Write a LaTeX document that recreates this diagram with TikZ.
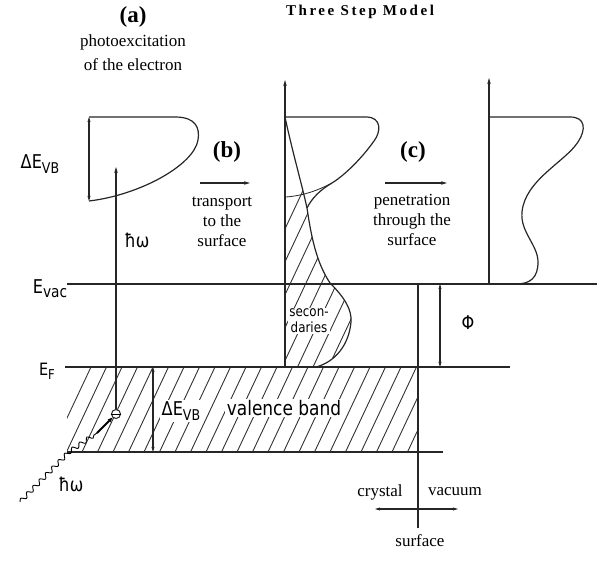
\documentclass[tikz,border=0pt]{standalone}
\usepackage{fontspec}
\usepackage{graphicx}
\setmainfont{Liberation Serif}
\newfontfamily\lab[FakeStretch=0.85]{DejaVu Sans}
\newfontfamily\spaced[LetterSpace=17]{Liberation Serif}
\usetikzlibrary{arrows.meta,decorations.pathmorphing}
\newcommand\lowsub[2][0.78]{\raisebox{-0.4ex}{\scalebox{#1}{#2}}}
\begin{document}
\begin{tikzpicture}[x=1pt,y=-1pt, line width=1pt,
  ln/.style={draw=black!85, line width=1.2pt},
  hatch/.style={draw=black!80, line width=0.9pt},
  tip/.style={-{Stealth[length=6pt,width=3.5pt]}},
  dtip/.style={{Stealth[length=5pt,width=3pt]}-{Stealth[length=5pt,width=3pt]}},
  serif/.style={font=\fontsize{17}{20}\selectfont, align=center, inner sep=0pt},
  big/.style={font=\bfseries\fontsize{23}{26}\selectfont, inner sep=0pt},
  labl/.style={font=\lab\fontsize{19}{22}\selectfont, inner sep=1pt},
  wbox/.style={fill=white, inner sep=1.5pt}]
\useasboundingbox (0,0) rectangle (597,575);

% ---------- key coordinates ----------
\coordinate (vacL) at (67,284);  \coordinate (vacR) at (597,284);
\coordinate (fL) at (65,367);    \coordinate (fR) at (510,367);
\coordinate (bL) at (67,452);    \coordinate (bR) at (443,452);
\coordinate (sT) at (418,284);   \coordinate (sB) at (418,528);

% ---------- hatching of the valence band ----------
\begin{scope}
  \clip (67,367) rectangle (418,452);
  \foreach \x in {51,66.5,...,430} \draw[hatch] (\x,452) -- ++(40,-85);
\end{scope}

% ---------- middle panel: hatched secondaries ----------
\begin{scope}
  \clip (285,117) .. controls (292,150) and (302,185) .. (307,208)
        .. controls (311,235) and (316,262) .. (330,283)
        .. controls (345,298) and (352,310) .. (351,322)
        .. controls (349,345) and (335,362) .. (316,367) -- (285,367) -- cycle;
  \foreach \x in {180,195.5,...,420} \draw[hatch] (\x,452) -- ++(160,-340);
\end{scope}
\draw[ln] (285,117) .. controls (292,150) and (302,185) .. (307,208)
        .. controls (311,235) and (316,262) .. (330,283)
        .. controls (345,298) and (352,310) .. (351,322)
        .. controls (349,345) and (335,362) .. (316,367);

% ---------- energy levels ----------
\draw[ln] (vacL) -- (vacR);
\draw[ln] (fL) -- (fR);
\draw[ln] (bL) -- (bR);
\draw[ln] (sT) -- (sB);
\coordinate (phT) at (440,284); \coordinate (phB) at (440,367);
\draw[ln,dtip] (phT) -- (phB);
\node[font=\lab\fontsize{19}{22}\selectfont] (phi) at (468,323) {Φ};

% ---------- level labels ----------
\node[labl] (evac) at (50,289) {E\lowsub[0.85]{vac}};
\node[labl, font=\lab\fontsize{17}{20}\selectfont] (ef) at (47,371) {E\lowsub[0.8]{F}};
\node[labl] (dEtop) at (40,164) {ΔE\lowsub{VB}};

% ---------- panel (a) ----------
\node[big] (a) at (133,17) {(a)};
\node[serif] (photo) at (133,42) {photoexcitation};
\node[serif] (ofel) at (133,65) {of the electron};
\coordinate (dT) at (89,117); \coordinate (dB) at (89,201);
\draw[ln,dtip] (dT) -- (dB);
\draw[ln] (89,117) -- (175,117) .. controls (196,117) and (200,128) .. (198,140)
          .. controls (194,165) and (140,195) .. (89,201);
\node[circle, draw=black!85, line width=1pt, fill=white, inner sep=0pt, minimum size=9pt] (el) at (116,414) {};
\draw[line width=0.9pt] (el.west) -- (el.east);
\coordinate (hwT) at (116,167);
\draw[ln,tip] (el.north) -- (hwT);
\node[font=\lab\fontsize{19}{22}\selectfont] (hw1) at (137,240) {ħω};
% incoming photon
\coordinate (ph0) at (20,502); \coordinate (ph1) at (69,452); \coordinate (ph2) at (97,433);
\draw[line width=0.9pt, line join=round, decorate, decoration={snake, amplitude=2.2pt, segment length=9pt}]
  (ph0) -- (ph1) -- (ph2);
\draw[line width=2pt, -{Stealth[length=5pt,width=4pt]}] (ph2) -- (el.south west);
\node[font=\lab\fontsize{19}{22}\selectfont] (hw2) at (71,484) {ħω};

% band labels
\coordinate (dbT) at (153,367); \coordinate (dbB) at (153,452);
\draw[ln,dtip] (dbT) -- (dbB);
\node[labl, wbox] (dEband) at (181,411) {ΔE\lowsub{VB}};
\node[labl, wbox, font=\lab\fontsize{20}{22}\selectfont] (vb) at (284,408) {valence band};

% ---------- panel (b) ----------
\node[big] (b) at (227,152) {(b)};
\coordinate (bA) at (200,183); \coordinate (bB) at (250,183);
\draw[ln,tip] (bA) -- (bB);
\node[serif] (btext) at (222,222) {transport\\to the\\surface};

% middle distribution
\coordinate (mB) at (285,367); \coordinate (mT) at (285,80);
\draw[ln,tip] (mB) -- (mT);
\draw[ln] (285,117) -- (366,117) .. controls (382,117) and (381,132) .. (374,141)
          .. controls (362,158) and (345,175) .. (332,183)
          .. controls (320,190) and (312,198) .. (307,208);
\draw[line width=0.8pt, draw=black!85] (332,183) .. controls (315,192) and (300,196) .. (286,197);
\node[font=\lab\fontsize{14}{16}\selectfont, wbox, inner sep=1pt, align=center] (sec) at (309,321) {secon-\\daries};

% ---------- panel (c) ----------
\node[big] (c) at (413,152) {(c)};
\coordinate (cA) at (385,183); \coordinate (cB) at (447,183);
\draw[ln,tip] (cA) -- (cB);
\node[serif] (ctext) at (412,220) {penetration\\through the\\surface};

\coordinate (rB) at (489,284); \coordinate (rT) at (489,78);
\draw[ln,tip] (rB) -- (rT);
\draw[ln] (489,117) -- (570,117) .. controls (586,117) and (586,130) .. (578,142)
          .. controls (565,162) and (525,180) .. (522,212)
          .. controls (520,232) and (538,245) .. (538,262)
          .. controls (538,278) and (530,284) .. (516,284);

% ---------- title ----------
\node[font=\spaced\bfseries\fontsize{15}{17}\selectfont, inner sep=0pt] (title) at (360,12) {Three Step Model};

% ---------- crystal / vacuum ----------
\node[serif] (cry) at (380,492) {crystal};
\node[serif] (vac) at (455,492) {vacuum};
\coordinate (cvL) at (375,509); \coordinate (cvR) at (458,509);
\draw[ln,dtip] (cvL) -- (cvR);
\node[serif] (surf) at (420,541) {surface};
\end{tikzpicture}
\end{document}
